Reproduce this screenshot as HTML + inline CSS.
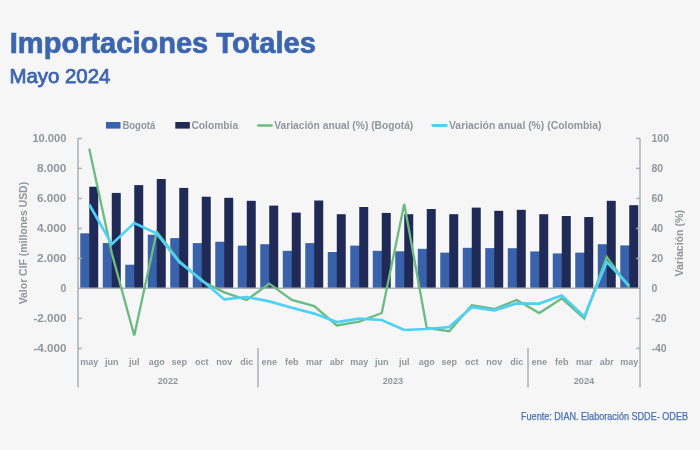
<!DOCTYPE html>
<html><head><meta charset="utf-8"><style>
html,body{margin:0;padding:0;background:#f6f6f6;}
svg{display:block;will-change:transform;}
</style></head><body>
<svg width="700" height="450" viewBox="0 0 700 450">
<rect width="700" height="450" fill="#f6f6f6"/>
<rect x="79.55" y="232.60" width="10.40" height="55.70" fill="#ffffff" opacity="0.6"/>
<rect x="88.55" y="186.00" width="10.40" height="102.30" fill="#ffffff" opacity="0.6"/>
<rect x="102.05" y="242.30" width="10.40" height="46.00" fill="#ffffff" opacity="0.6"/>
<rect x="111.05" y="192.20" width="10.40" height="96.10" fill="#ffffff" opacity="0.6"/>
<rect x="124.55" y="264.00" width="10.40" height="24.30" fill="#ffffff" opacity="0.6"/>
<rect x="133.55" y="184.40" width="10.40" height="103.90" fill="#ffffff" opacity="0.6"/>
<rect x="147.05" y="234.00" width="10.40" height="54.30" fill="#ffffff" opacity="0.6"/>
<rect x="156.05" y="178.30" width="10.40" height="110.00" fill="#ffffff" opacity="0.6"/>
<rect x="169.55" y="237.40" width="10.40" height="50.90" fill="#ffffff" opacity="0.6"/>
<rect x="178.55" y="187.20" width="10.40" height="101.10" fill="#ffffff" opacity="0.6"/>
<rect x="192.05" y="242.40" width="10.40" height="45.90" fill="#ffffff" opacity="0.6"/>
<rect x="201.05" y="196.00" width="10.40" height="92.30" fill="#ffffff" opacity="0.6"/>
<rect x="214.55" y="241.00" width="10.40" height="47.30" fill="#ffffff" opacity="0.6"/>
<rect x="223.55" y="197.10" width="10.40" height="91.20" fill="#ffffff" opacity="0.6"/>
<rect x="237.05" y="244.90" width="10.40" height="43.40" fill="#ffffff" opacity="0.6"/>
<rect x="246.05" y="200.10" width="10.40" height="88.20" fill="#ffffff" opacity="0.6"/>
<rect x="259.55" y="243.50" width="10.40" height="44.80" fill="#ffffff" opacity="0.6"/>
<rect x="268.55" y="204.90" width="10.40" height="83.40" fill="#ffffff" opacity="0.6"/>
<rect x="282.05" y="250.10" width="10.40" height="38.20" fill="#ffffff" opacity="0.6"/>
<rect x="291.05" y="211.90" width="10.40" height="76.40" fill="#ffffff" opacity="0.6"/>
<rect x="304.55" y="242.40" width="10.40" height="45.90" fill="#ffffff" opacity="0.6"/>
<rect x="313.55" y="199.80" width="10.40" height="88.50" fill="#ffffff" opacity="0.6"/>
<rect x="327.05" y="251.30" width="10.40" height="37.00" fill="#ffffff" opacity="0.6"/>
<rect x="336.05" y="213.50" width="10.40" height="74.80" fill="#ffffff" opacity="0.6"/>
<rect x="349.55" y="244.90" width="10.40" height="43.40" fill="#ffffff" opacity="0.6"/>
<rect x="358.55" y="206.30" width="10.40" height="82.00" fill="#ffffff" opacity="0.6"/>
<rect x="372.05" y="250.10" width="10.40" height="38.20" fill="#ffffff" opacity="0.6"/>
<rect x="381.05" y="212.20" width="10.40" height="76.10" fill="#ffffff" opacity="0.6"/>
<rect x="394.55" y="250.60" width="10.40" height="37.70" fill="#ffffff" opacity="0.6"/>
<rect x="403.55" y="213.50" width="10.40" height="74.80" fill="#ffffff" opacity="0.6"/>
<rect x="417.05" y="248.10" width="10.40" height="40.20" fill="#ffffff" opacity="0.6"/>
<rect x="426.05" y="208.30" width="10.40" height="80.00" fill="#ffffff" opacity="0.6"/>
<rect x="439.55" y="251.90" width="10.40" height="36.40" fill="#ffffff" opacity="0.6"/>
<rect x="448.55" y="213.50" width="10.40" height="74.80" fill="#ffffff" opacity="0.6"/>
<rect x="462.05" y="247.10" width="10.40" height="41.20" fill="#ffffff" opacity="0.6"/>
<rect x="471.05" y="206.90" width="10.40" height="81.40" fill="#ffffff" opacity="0.6"/>
<rect x="484.55" y="247.40" width="10.40" height="40.90" fill="#ffffff" opacity="0.6"/>
<rect x="493.55" y="210.10" width="10.40" height="78.20" fill="#ffffff" opacity="0.6"/>
<rect x="507.05" y="247.50" width="10.40" height="40.80" fill="#ffffff" opacity="0.6"/>
<rect x="516.05" y="209.10" width="10.40" height="79.20" fill="#ffffff" opacity="0.6"/>
<rect x="529.55" y="250.70" width="10.40" height="37.60" fill="#ffffff" opacity="0.6"/>
<rect x="538.55" y="213.50" width="10.40" height="74.80" fill="#ffffff" opacity="0.6"/>
<rect x="552.05" y="252.70" width="10.40" height="35.60" fill="#ffffff" opacity="0.6"/>
<rect x="561.05" y="215.30" width="10.40" height="73.00" fill="#ffffff" opacity="0.6"/>
<rect x="574.55" y="251.90" width="10.40" height="36.40" fill="#ffffff" opacity="0.6"/>
<rect x="583.55" y="216.30" width="10.40" height="72.00" fill="#ffffff" opacity="0.6"/>
<rect x="597.05" y="243.50" width="10.40" height="44.80" fill="#ffffff" opacity="0.6"/>
<rect x="606.05" y="200.10" width="10.40" height="88.20" fill="#ffffff" opacity="0.6"/>
<rect x="619.55" y="244.70" width="10.40" height="43.60" fill="#ffffff" opacity="0.6"/>
<rect x="628.55" y="204.50" width="10.40" height="83.80" fill="#ffffff" opacity="0.6"/>
<rect x="80.25" y="233.30" width="10.00" height="55.00" fill="#3a62aa"/>
<rect x="89.25" y="186.70" width="9.00" height="101.60" fill="#1f2a56"/>
<rect x="102.75" y="243.00" width="10.00" height="45.30" fill="#3a62aa"/>
<rect x="111.75" y="192.90" width="9.00" height="95.40" fill="#1f2a56"/>
<rect x="125.25" y="264.70" width="10.00" height="23.60" fill="#3a62aa"/>
<rect x="134.25" y="185.10" width="9.00" height="103.20" fill="#1f2a56"/>
<rect x="147.75" y="234.70" width="10.00" height="53.60" fill="#3a62aa"/>
<rect x="156.75" y="179.00" width="9.00" height="109.30" fill="#1f2a56"/>
<rect x="170.25" y="238.10" width="10.00" height="50.20" fill="#3a62aa"/>
<rect x="179.25" y="187.90" width="9.00" height="100.40" fill="#1f2a56"/>
<rect x="192.75" y="243.10" width="10.00" height="45.20" fill="#3a62aa"/>
<rect x="201.75" y="196.70" width="9.00" height="91.60" fill="#1f2a56"/>
<rect x="215.25" y="241.70" width="10.00" height="46.60" fill="#3a62aa"/>
<rect x="224.25" y="197.80" width="9.00" height="90.50" fill="#1f2a56"/>
<rect x="237.75" y="245.60" width="10.00" height="42.70" fill="#3a62aa"/>
<rect x="246.75" y="200.80" width="9.00" height="87.50" fill="#1f2a56"/>
<rect x="260.25" y="244.20" width="10.00" height="44.10" fill="#3a62aa"/>
<rect x="269.25" y="205.60" width="9.00" height="82.70" fill="#1f2a56"/>
<rect x="282.75" y="250.80" width="10.00" height="37.50" fill="#3a62aa"/>
<rect x="291.75" y="212.60" width="9.00" height="75.70" fill="#1f2a56"/>
<rect x="305.25" y="243.10" width="10.00" height="45.20" fill="#3a62aa"/>
<rect x="314.25" y="200.50" width="9.00" height="87.80" fill="#1f2a56"/>
<rect x="327.75" y="252.00" width="10.00" height="36.30" fill="#3a62aa"/>
<rect x="336.75" y="214.20" width="9.00" height="74.10" fill="#1f2a56"/>
<rect x="350.25" y="245.60" width="10.00" height="42.70" fill="#3a62aa"/>
<rect x="359.25" y="207.00" width="9.00" height="81.30" fill="#1f2a56"/>
<rect x="372.75" y="250.80" width="10.00" height="37.50" fill="#3a62aa"/>
<rect x="381.75" y="212.90" width="9.00" height="75.40" fill="#1f2a56"/>
<rect x="395.25" y="251.30" width="10.00" height="37.00" fill="#3a62aa"/>
<rect x="404.25" y="214.20" width="9.00" height="74.10" fill="#1f2a56"/>
<rect x="417.75" y="248.80" width="10.00" height="39.50" fill="#3a62aa"/>
<rect x="426.75" y="209.00" width="9.00" height="79.30" fill="#1f2a56"/>
<rect x="440.25" y="252.60" width="10.00" height="35.70" fill="#3a62aa"/>
<rect x="449.25" y="214.20" width="9.00" height="74.10" fill="#1f2a56"/>
<rect x="462.75" y="247.80" width="10.00" height="40.50" fill="#3a62aa"/>
<rect x="471.75" y="207.60" width="9.00" height="80.70" fill="#1f2a56"/>
<rect x="485.25" y="248.10" width="10.00" height="40.20" fill="#3a62aa"/>
<rect x="494.25" y="210.80" width="9.00" height="77.50" fill="#1f2a56"/>
<rect x="507.75" y="248.20" width="10.00" height="40.10" fill="#3a62aa"/>
<rect x="516.75" y="209.80" width="9.00" height="78.50" fill="#1f2a56"/>
<rect x="530.25" y="251.40" width="10.00" height="36.90" fill="#3a62aa"/>
<rect x="539.25" y="214.20" width="9.00" height="74.10" fill="#1f2a56"/>
<rect x="552.75" y="253.40" width="10.00" height="34.90" fill="#3a62aa"/>
<rect x="561.75" y="216.00" width="9.00" height="72.30" fill="#1f2a56"/>
<rect x="575.25" y="252.60" width="10.00" height="35.70" fill="#3a62aa"/>
<rect x="584.25" y="217.00" width="9.00" height="71.30" fill="#1f2a56"/>
<rect x="597.75" y="244.20" width="10.00" height="44.10" fill="#3a62aa"/>
<rect x="606.75" y="200.80" width="9.00" height="87.50" fill="#1f2a56"/>
<rect x="620.25" y="245.40" width="10.00" height="42.90" fill="#3a62aa"/>
<rect x="629.25" y="205.20" width="9.00" height="83.10" fill="#1f2a56"/>
<line x1="78" y1="288.3" x2="640" y2="288.3" stroke="#aab0b7" stroke-width="1.5"/>
<line x1="78" y1="138.4" x2="78" y2="387.5" stroke="#aab0b7" stroke-width="1.5"/>
<line x1="640" y1="138.4" x2="640" y2="387.5" stroke="#aab0b7" stroke-width="1.5"/>
<line x1="78" y1="138.4" x2="81.8" y2="138.4" stroke="#aab0b7" stroke-width="1.5"/>
<line x1="636.2" y1="138.4" x2="640" y2="138.4" stroke="#aab0b7" stroke-width="1.5"/>
<line x1="78" y1="168.4" x2="81.8" y2="168.4" stroke="#aab0b7" stroke-width="1.5"/>
<line x1="636.2" y1="168.4" x2="640" y2="168.4" stroke="#aab0b7" stroke-width="1.5"/>
<line x1="78" y1="198.4" x2="81.8" y2="198.4" stroke="#aab0b7" stroke-width="1.5"/>
<line x1="636.2" y1="198.4" x2="640" y2="198.4" stroke="#aab0b7" stroke-width="1.5"/>
<line x1="78" y1="228.4" x2="81.8" y2="228.4" stroke="#aab0b7" stroke-width="1.5"/>
<line x1="636.2" y1="228.4" x2="640" y2="228.4" stroke="#aab0b7" stroke-width="1.5"/>
<line x1="78" y1="258.4" x2="81.8" y2="258.4" stroke="#aab0b7" stroke-width="1.5"/>
<line x1="636.2" y1="258.4" x2="640" y2="258.4" stroke="#aab0b7" stroke-width="1.5"/>
<line x1="78" y1="318.4" x2="81.8" y2="318.4" stroke="#aab0b7" stroke-width="1.5"/>
<line x1="636.2" y1="318.4" x2="640" y2="318.4" stroke="#aab0b7" stroke-width="1.5"/>
<line x1="78" y1="348.4" x2="81.8" y2="348.4" stroke="#aab0b7" stroke-width="1.5"/>
<line x1="636.2" y1="348.4" x2="640" y2="348.4" stroke="#aab0b7" stroke-width="1.5"/>
<line x1="258" y1="348" x2="258" y2="387.5" stroke="#aab0b7" stroke-width="1.5"/>
<line x1="528" y1="348" x2="528" y2="387.5" stroke="#aab0b7" stroke-width="1.5"/>
<polyline points="89.25,148.70 111.75,253.00 134.25,335.50 156.75,231.80 179.25,261.00 201.75,281.00 224.25,292.40 246.75,300.00 269.25,283.60 291.75,300.00 314.25,306.00 336.75,325.40 359.25,321.60 381.75,313.00 404.25,203.90 426.75,328.00 449.25,331.20 471.75,305.20 494.25,309.00 516.75,300.00 539.25,313.00 561.75,298.40 584.25,318.50 606.75,257.00 629.25,287.60" fill="none" stroke="#6cbb83" stroke-width="2.35" stroke-linejoin="miter"/>
<polyline points="89.25,204.50 111.75,244.20 134.25,223.00 156.75,233.60 179.25,262.00 201.75,280.00 224.25,299.40 246.75,297.00 269.25,301.40 291.75,307.80 314.25,313.60 336.75,322.00 359.25,318.60 381.75,320.00 404.25,330.00 426.75,329.00 449.25,327.00 471.75,307.20 494.25,310.40 516.75,303.40 539.25,303.60 561.75,295.60 584.25,316.50 606.75,262.00 629.25,285.60" fill="none" stroke="#4fd0f6" stroke-width="2.7" stroke-linejoin="miter"/>
<text x="32.400000000000006" y="142.0" font-family="Liberation Sans, sans-serif" font-weight="bold" font-size="10.5" textLength="34" lengthAdjust="spacingAndGlyphs" fill="#90969e">10.000</text>
<text x="36.900000000000006" y="172.0" font-family="Liberation Sans, sans-serif" font-weight="bold" font-size="10.5" textLength="29.5" lengthAdjust="spacingAndGlyphs" fill="#90969e">8.000</text>
<text x="36.900000000000006" y="202.0" font-family="Liberation Sans, sans-serif" font-weight="bold" font-size="10.5" textLength="29.5" lengthAdjust="spacingAndGlyphs" fill="#90969e">6.000</text>
<text x="36.900000000000006" y="232.0" font-family="Liberation Sans, sans-serif" font-weight="bold" font-size="10.5" textLength="29.5" lengthAdjust="spacingAndGlyphs" fill="#90969e">4.000</text>
<text x="36.900000000000006" y="262.0" font-family="Liberation Sans, sans-serif" font-weight="bold" font-size="10.5" textLength="29.5" lengthAdjust="spacingAndGlyphs" fill="#90969e">2.000</text>
<text x="66.4" y="292.0" text-anchor="end" font-family="Liberation Sans, sans-serif" font-weight="bold" font-size="10.5" fill="#90969e">0</text>
<text x="33.400000000000006" y="322.0" font-family="Liberation Sans, sans-serif" font-weight="bold" font-size="10.5" textLength="33" lengthAdjust="spacingAndGlyphs" fill="#90969e">-2.000</text>
<text x="33.400000000000006" y="352.0" font-family="Liberation Sans, sans-serif" font-weight="bold" font-size="10.5" textLength="33" lengthAdjust="spacingAndGlyphs" fill="#90969e">-4.000</text>
<text x="651.5" y="142.0" font-family="Liberation Sans, sans-serif" font-weight="bold" font-size="10.5" fill="#90969e">100</text>
<text x="651.5" y="172.0" font-family="Liberation Sans, sans-serif" font-weight="bold" font-size="10.5" fill="#90969e">80</text>
<text x="651.5" y="202.0" font-family="Liberation Sans, sans-serif" font-weight="bold" font-size="10.5" fill="#90969e">60</text>
<text x="651.5" y="232.0" font-family="Liberation Sans, sans-serif" font-weight="bold" font-size="10.5" fill="#90969e">40</text>
<text x="651.5" y="262.0" font-family="Liberation Sans, sans-serif" font-weight="bold" font-size="10.5" fill="#90969e">20</text>
<text x="651.5" y="292.0" font-family="Liberation Sans, sans-serif" font-weight="bold" font-size="10.5" fill="#90969e">0</text>
<text x="651.5" y="322.0" font-family="Liberation Sans, sans-serif" font-weight="bold" font-size="10.5" fill="#90969e">-20</text>
<text x="651.5" y="352.0" font-family="Liberation Sans, sans-serif" font-weight="bold" font-size="10.5" fill="#90969e">-40</text>
<text x="89.25" y="364.7" text-anchor="middle" font-family="Liberation Sans, sans-serif" font-weight="bold" font-size="9" fill="#90969e">may</text>
<text x="111.75" y="364.7" text-anchor="middle" font-family="Liberation Sans, sans-serif" font-weight="bold" font-size="9" fill="#90969e">jun</text>
<text x="134.25" y="364.7" text-anchor="middle" font-family="Liberation Sans, sans-serif" font-weight="bold" font-size="9" fill="#90969e">jul</text>
<text x="156.75" y="364.7" text-anchor="middle" font-family="Liberation Sans, sans-serif" font-weight="bold" font-size="9" fill="#90969e">ago</text>
<text x="179.25" y="364.7" text-anchor="middle" font-family="Liberation Sans, sans-serif" font-weight="bold" font-size="9" fill="#90969e">sep</text>
<text x="201.75" y="364.7" text-anchor="middle" font-family="Liberation Sans, sans-serif" font-weight="bold" font-size="9" fill="#90969e">oct</text>
<text x="224.25" y="364.7" text-anchor="middle" font-family="Liberation Sans, sans-serif" font-weight="bold" font-size="9" fill="#90969e">nov</text>
<text x="246.75" y="364.7" text-anchor="middle" font-family="Liberation Sans, sans-serif" font-weight="bold" font-size="9" fill="#90969e">dic</text>
<text x="269.25" y="364.7" text-anchor="middle" font-family="Liberation Sans, sans-serif" font-weight="bold" font-size="9" fill="#90969e">ene</text>
<text x="291.75" y="364.7" text-anchor="middle" font-family="Liberation Sans, sans-serif" font-weight="bold" font-size="9" fill="#90969e">feb</text>
<text x="314.25" y="364.7" text-anchor="middle" font-family="Liberation Sans, sans-serif" font-weight="bold" font-size="9" fill="#90969e">mar</text>
<text x="336.75" y="364.7" text-anchor="middle" font-family="Liberation Sans, sans-serif" font-weight="bold" font-size="9" fill="#90969e">abr</text>
<text x="359.25" y="364.7" text-anchor="middle" font-family="Liberation Sans, sans-serif" font-weight="bold" font-size="9" fill="#90969e">may</text>
<text x="381.75" y="364.7" text-anchor="middle" font-family="Liberation Sans, sans-serif" font-weight="bold" font-size="9" fill="#90969e">jun</text>
<text x="404.25" y="364.7" text-anchor="middle" font-family="Liberation Sans, sans-serif" font-weight="bold" font-size="9" fill="#90969e">jul</text>
<text x="426.75" y="364.7" text-anchor="middle" font-family="Liberation Sans, sans-serif" font-weight="bold" font-size="9" fill="#90969e">ago</text>
<text x="449.25" y="364.7" text-anchor="middle" font-family="Liberation Sans, sans-serif" font-weight="bold" font-size="9" fill="#90969e">sep</text>
<text x="471.75" y="364.7" text-anchor="middle" font-family="Liberation Sans, sans-serif" font-weight="bold" font-size="9" fill="#90969e">oct</text>
<text x="494.25" y="364.7" text-anchor="middle" font-family="Liberation Sans, sans-serif" font-weight="bold" font-size="9" fill="#90969e">nov</text>
<text x="516.75" y="364.7" text-anchor="middle" font-family="Liberation Sans, sans-serif" font-weight="bold" font-size="9" fill="#90969e">dic</text>
<text x="539.25" y="364.7" text-anchor="middle" font-family="Liberation Sans, sans-serif" font-weight="bold" font-size="9" fill="#90969e">ene</text>
<text x="561.75" y="364.7" text-anchor="middle" font-family="Liberation Sans, sans-serif" font-weight="bold" font-size="9" fill="#90969e">feb</text>
<text x="584.25" y="364.7" text-anchor="middle" font-family="Liberation Sans, sans-serif" font-weight="bold" font-size="9" fill="#90969e">mar</text>
<text x="606.75" y="364.7" text-anchor="middle" font-family="Liberation Sans, sans-serif" font-weight="bold" font-size="9" fill="#90969e">abr</text>
<text x="629.25" y="364.7" text-anchor="middle" font-family="Liberation Sans, sans-serif" font-weight="bold" font-size="9" fill="#90969e">may</text>
<text x="168" y="384.4" text-anchor="middle" font-family="Liberation Sans, sans-serif" font-weight="bold" font-size="9.6" textLength="20.5" lengthAdjust="spacingAndGlyphs" fill="#90969e">2022</text>
<text x="393" y="384.4" text-anchor="middle" font-family="Liberation Sans, sans-serif" font-weight="bold" font-size="9.6" textLength="20.5" lengthAdjust="spacingAndGlyphs" fill="#90969e">2023</text>
<text x="584" y="384.4" text-anchor="middle" font-family="Liberation Sans, sans-serif" font-weight="bold" font-size="9.6" textLength="20.5" lengthAdjust="spacingAndGlyphs" fill="#90969e">2024</text>
<text transform="translate(27.0,243.1) rotate(-90)" text-anchor="middle" font-family="Liberation Sans, sans-serif" font-weight="bold" font-size="10.6" textLength="122.5" lengthAdjust="spacingAndGlyphs" fill="#90969e">Valor CIF (millones USD)</text>
<text transform="translate(682.8,243.3) rotate(-90)" text-anchor="middle" font-family="Liberation Sans, sans-serif" font-weight="bold" font-size="10.8" textLength="66.5" lengthAdjust="spacingAndGlyphs" fill="#90969e">Variación (%)</text>
<rect x="106" y="122" width="14.5" height="6.6" fill="#3a62aa"/>
<text x="122.4" y="128.9" font-family="Liberation Sans, sans-serif" font-weight="bold" font-size="10.5" textLength="32.9" lengthAdjust="spacingAndGlyphs" fill="#90969e">Bogotá</text>
<rect x="175.3" y="122" width="14.5" height="6.6" fill="#1f2a56"/>
<text x="191.4" y="128.9" font-family="Liberation Sans, sans-serif" font-weight="bold" font-size="10.5" textLength="46.8" lengthAdjust="spacingAndGlyphs" fill="#90969e">Colombia</text>
<line x1="258.3" y1="125.5" x2="271.7" y2="125.5" stroke="#6cbb83" stroke-width="2.5" stroke-linecap="round"/>
<text x="274.3" y="128.9" font-family="Liberation Sans, sans-serif" font-weight="bold" font-size="10.5" textLength="139" lengthAdjust="spacingAndGlyphs" fill="#90969e">Variación anual (%) (Bogotá)</text>
<line x1="432.8" y1="125.5" x2="446.3" y2="125.5" stroke="#4fd0f6" stroke-width="2.9" stroke-linecap="round"/>
<text x="449" y="128.9" font-family="Liberation Sans, sans-serif" font-weight="bold" font-size="10.5" textLength="152.5" lengthAdjust="spacingAndGlyphs" fill="#90969e">Variación anual (%) (Colombia)</text>
<text x="9.8" y="53" font-family="Liberation Sans, sans-serif" font-weight="bold" font-size="29.8" textLength="306" lengthAdjust="spacingAndGlyphs" fill="#3b65b0" stroke="#3b65b0" stroke-width="0.7">Importaciones Totales</text>
<text x="9.4" y="83" font-family="Liberation Sans, sans-serif" font-size="19.5" textLength="101" lengthAdjust="spacingAndGlyphs" fill="#3b65b0" stroke="#3b65b0" stroke-width="0.75">Mayo 2024</text>
<text x="521" y="419.6" font-family="Liberation Sans, sans-serif" font-size="10.3" textLength="167" lengthAdjust="spacingAndGlyphs" fill="#4a6fb5" stroke="#4a6fb5" stroke-width="0.25">Fuente: DIAN. Elaboración SDDE- ODEB</text>
</svg>
</body></html>
